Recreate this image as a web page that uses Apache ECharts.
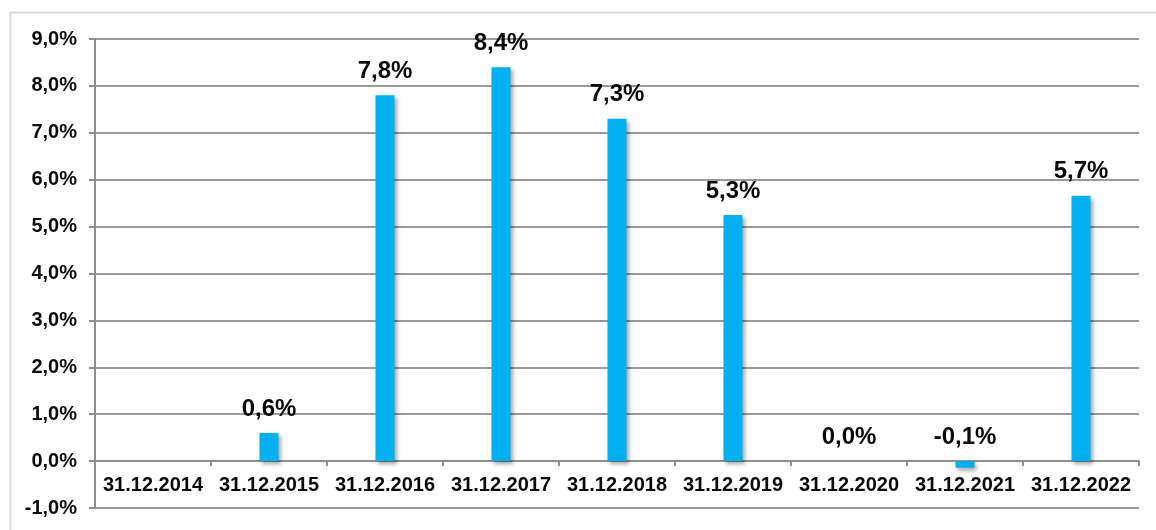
<!DOCTYPE html>
<html>
<head>
<meta charset="utf-8">
<script src="https://cdn.jsdelivr.net/npm/echarts@6/dist/echarts.min.js"></script>
<style>
html,body{margin:0;padding:0;background:#fff;}
#c{width:1156px;height:530px;}
</style>
</head>
<body>
<div id="c"></div>
<script>
var categories = ['31.12.2014','31.12.2015','31.12.2016','31.12.2017','31.12.2018','31.12.2019','31.12.2020','31.12.2021','31.12.2022'];
var values = [null, 0.6, 7.8, 8.4, 7.3, 5.25, 0.0, -0.14, 5.66];
var yMin = -1, yMax = 9, yStep = 1;

function pct(v){ return v.toFixed(1).replace('.', ',') + '%'; }

var chart = echarts.init(document.getElementById('c'), null, {renderer:'canvas'});
var FONT = '"Liberation Sans", Arial, sans-serif';
chart.setOption({
  animation:false,
  backgroundColor:'#fff',
  graphic:[{
    type:'rect', left:8, top:10, z:-1,
    shape:{x:0,y:0,width:1170,height:540},
    style:{fill:'none', stroke:'#d9d9d9', lineWidth:2}
  }],
  grid:{left:95, right:17, top:39, bottom:22, containLabel:false, outerBoundsMode:'none'},
  xAxis:[{
    type:'category',
    data:categories,
    axisLine:{onZero:true, lineStyle:{color:'#8f8f8f', width:2}},
    axisTick:{show:true, alignWithLabel:false, length:5, lineStyle:{color:'#8f8f8f', width:2}},
    axisLabel:{show:false},
    splitLine:{show:false}
  },{
    type:'category',
    data:categories,
    position:'bottom',
    axisLine:{show:false, onZero:false},
    axisTick:{show:false},
    axisLabel:{inside:true, fontFamily:FONT, fontWeight:'bold', fontSize:20, color:'#0a0a0a', margin:13, interval:0},
    splitLine:{show:false}
  }],
  yAxis:{
    type:'value', min:yMin, max:yMax, interval:yStep,
    axisLine:{show:true, lineStyle:{color:'#8f8f8f', width:2}},
    axisTick:{show:true, length:6, lineStyle:{color:'#8f8f8f', width:2}},
    axisLabel:{fontFamily:FONT, fontWeight:'bold', fontSize:20, color:'#0a0a0a', margin:18,
      formatter:function(v){ return pct(v); }},
    splitLine:{show:true, lineStyle:{color:'#9a9a9a', width:2}}
  },
  series:[{
    type:'bar',
    xAxisIndex:0,
    data:values,
    barWidth:19,
    itemStyle:{color:'#00B0F0', shadowColor:'rgba(0,0,0,0.35)', shadowBlur:4, shadowOffsetX:2, shadowOffsetY:3},
    label:{
      show:true, position:'top', distance:12,
      fontFamily:FONT, fontWeight:'bold', fontSize:24, color:'#0a0a0a',
      formatter:function(p){ return p.value == null ? '' : pct(p.value); }
    }
  }]
});
</script>
</body>
</html>
